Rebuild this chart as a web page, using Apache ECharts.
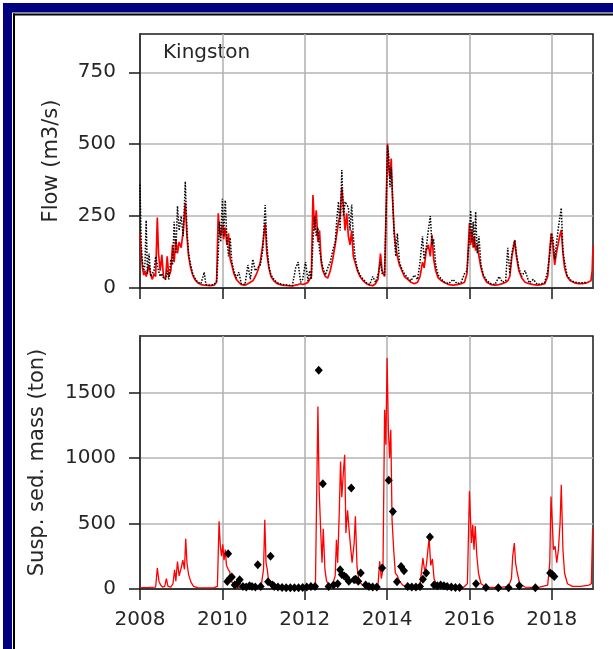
<!DOCTYPE html>
<html>
<head>
<meta charset="utf-8">
<script src="https://cdn.jsdelivr.net/npm/echarts@6/dist/echarts.min.js"></script>
<style>
html,body{margin:0;padding:0;background:#fff;}
#chart{width:613px;height:649px;}
</style>
</head>
<body>
<div id="chart"></div>
<script>
// ---------- DATA ----------
var stationName = 'Kingston';
var xTicks = [2008, 2010, 2012, 2014, 2016, 2018];
var flowTicks = [0, 250, 500, 750];
var sedTicks = [0, 500, 1000, 1500];

// Flow (m3/s): time (decimal year), simulated (red), observed (black dotted)
var flowT = [2008.00,2008.03,2008.06,2008.09,2008.12,2008.15,2008.18,2008.22,2008.26,2008.30,2008.34,2008.38,2008.42,2008.45,2008.49,2008.53,2008.57,2008.62,2008.66,2008.70,2008.75,2008.79,2008.83,2008.87,2008.91,2008.95,2009.00,2009.05,2009.10,2009.14,2009.18,2009.23,2009.28,2009.33,2009.40,2009.48,2009.56,2009.60,2009.70,2009.80,2009.86,2009.90,2009.93,2009.96,2010.00,2010.03,2010.07,2010.11,2010.15,2010.19,2010.23,2010.28,2010.34,2010.40,2010.46,2010.55,2010.62,2010.68,2010.74,2010.80,2010.86,2010.92,2010.98,2011.04,2011.08,2011.13,2011.18,2011.25,2011.33,2011.45,2011.60,2011.70,2011.78,2011.84,2011.90,2011.95,2012.02,2012.08,2012.12,2012.16,2012.20,2012.24,2012.28,2012.32,2012.36,2012.40,2012.44,2012.50,2012.56,2012.62,2012.68,2012.74,2012.78,2012.82,2012.86,2012.90,2012.94,2012.98,2013.02,2013.06,2013.10,2013.14,2013.18,2013.22,2013.28,2013.34,2013.42,2013.50,2013.58,2013.65,2013.72,2013.78,2013.84,2013.88,2013.94,2013.98,2014.01,2014.04,2014.07,2014.10,2014.13,2014.17,2014.21,2014.25,2014.30,2014.36,2014.42,2014.50,2014.58,2014.66,2014.74,2014.80,2014.86,2014.90,2014.95,2015.00,2015.05,2015.09,2015.13,2015.18,2015.24,2015.32,2015.40,2015.50,2015.60,2015.70,2015.80,2015.88,2015.94,2016.00,2016.03,2016.06,2016.09,2016.12,2016.15,2016.19,2016.23,2016.28,2016.34,2016.42,2016.52,2016.62,2016.72,2016.80,2016.88,2016.93,2016.98,2017.03,2017.07,2017.10,2017.14,2017.20,2017.27,2017.35,2017.45,2017.55,2017.65,2017.75,2017.83,2017.90,2017.96,2017.99,2018.03,2018.07,2018.11,2018.15,2018.19,2018.23,2018.27,2018.31,2018.37,2018.45,2018.55,2018.65,2018.75,2018.85,2018.95,2018.98,2019.00];
var flowSim = [190,120,70,45,60,40,35,80,45,30,50,40,245,120,60,115,40,30,110,40,60,150,90,170,120,160,140,200,295,180,110,70,45,30,18,12,10,9,8,10,20,260,200,180,220,170,210,150,190,100,80,50,30,20,12,10,15,20,25,40,60,90,150,225,120,70,40,25,15,10,8,7,10,12,15,12,15,20,18,40,323,200,270,160,200,90,60,40,35,60,100,150,190,230,250,350,280,200,260,180,150,200,110,90,60,40,25,15,10,8,15,30,120,60,40,300,502,420,380,450,317,200,144,110,80,60,40,30,20,15,20,40,90,70,130,150,110,185,100,60,35,25,18,12,10,12,15,20,50,226,150,200,140,180,130,150,110,70,40,20,12,10,12,15,20,25,40,110,140,167,110,60,35,20,15,12,10,12,15,40,150,191,140,80,120,150,180,202,120,70,40,25,18,15,15,18,25,60,145];
var flowObs = [360,150,90,60,80,235,50,120,40,35,60,110,80,60,40,50,35,30,60,30,100,80,230,120,285,200,250,180,370,200,120,80,50,35,20,15,55,12,10,12,25,120,230,160,310,180,305,170,110,175,90,60,35,55,15,12,80,30,100,60,70,80,130,288,150,75,45,30,18,12,10,8,70,90,20,30,90,25,60,30,160,250,180,210,130,100,70,45,70,90,130,160,240,300,200,410,250,300,290,280,200,290,180,110,65,45,30,18,12,40,20,45,90,50,45,280,495,460,350,420,330,190,110,190,90,65,50,35,25,45,30,90,180,100,140,200,250,150,170,80,45,30,20,15,30,15,20,50,60,180,270,160,230,140,265,120,180,80,45,25,15,12,40,20,25,140,50,120,150,165,120,70,40,60,18,30,12,15,20,60,130,190,170,100,150,200,240,278,130,90,45,28,20,18,18,20,null,null,null];

// Suspended sediment mass (ton): simulated (red line)
var sedT = [2008.00,2008.20,2008.38,2008.42,2008.46,2008.50,2008.55,2008.60,2008.64,2008.68,2008.75,2008.80,2008.84,2008.87,2008.91,2008.95,2009.00,2009.04,2009.08,2009.11,2009.14,2009.18,2009.24,2009.30,2009.40,2009.60,2009.80,2009.88,2009.92,2009.95,2009.98,2010.01,2010.04,2010.07,2010.10,2010.14,2010.18,2010.22,2010.28,2010.36,2010.50,2010.70,2010.85,2010.95,2011.00,2011.03,2011.06,2011.09,2011.13,2011.20,2011.35,2011.60,2011.90,2012.15,2012.26,2012.32,2012.35,2012.39,2012.42,2012.45,2012.49,2012.53,2012.60,2012.68,2012.74,2012.77,2012.80,2012.84,2012.87,2012.90,2012.94,2012.97,2013.00,2013.04,2013.08,2013.12,2013.15,2013.20,2013.23,2013.27,2013.32,2013.40,2013.55,2013.70,2013.78,2013.82,2013.86,2013.90,2013.94,2013.97,2014.00,2014.03,2014.06,2014.09,2014.12,2014.16,2014.20,2014.25,2014.30,2014.38,2014.50,2014.70,2014.80,2014.87,2014.92,2014.96,2015.02,2015.06,2015.10,2015.14,2015.20,2015.35,2015.60,2015.85,2015.95,2016.00,2016.03,2016.05,2016.08,2016.11,2016.14,2016.18,2016.22,2016.28,2016.40,2016.70,2016.95,2017.02,2017.05,2017.09,2017.12,2017.16,2017.22,2017.35,2017.65,2017.90,2017.95,2017.98,2018.01,2018.04,2018.08,2018.12,2018.16,2018.20,2018.23,2018.27,2018.31,2018.38,2018.50,2018.70,2018.90,2018.96,2018.99,2019.00];
var sedSim = [10,12,15,160,60,30,15,20,80,20,15,40,147,60,210,100,160,220,150,384,200,110,50,20,10,8,10,20,516,330,250,340,220,300,180,150,130,60,30,15,10,10,15,40,150,529,200,150,40,20,10,8,10,12,30,1393,757,427,200,460,150,60,30,40,100,376,200,600,973,700,900,1024,427,600,440,300,200,350,554,170,60,30,15,12,30,211,80,150,1368,1100,1762,1228,1000,1215,529,300,122,100,60,30,15,10,30,236,120,200,390,180,230,80,30,15,10,12,40,745,500,351,490,300,480,250,120,40,15,10,20,80,249,351,200,124,40,15,10,30,200,706,516,300,325,200,300,500,796,300,120,40,20,20,30,40,452,460];

// Observed suspended sediment mass (ton): black diamonds
var obsT = [2010.12,2010.14,2010.18,2010.23,2010.30,2010.36,2010.42,2010.50,2010.58,2010.66,2010.72,2010.80,2010.86,2010.93,2011.11,2011.17,2011.22,2011.26,2011.35,2011.45,2011.55,2011.65,2011.75,2011.85,2011.95,2012.05,2012.15,2012.25,2012.34,2012.44,2012.58,2012.70,2012.80,2012.86,2012.90,2012.96,2013.01,2013.07,2013.13,2013.20,2013.24,2013.30,2013.36,2013.48,2013.56,2013.65,2013.75,2013.88,2014.04,2014.14,2014.24,2014.34,2014.41,2014.50,2014.60,2014.70,2014.80,2014.87,2014.95,2015.04,2015.14,2015.22,2015.30,2015.38,2015.46,2015.56,2015.66,2015.76,2016.16,2016.40,2016.70,2016.95,2017.21,2017.60,2017.96,2018.01,2018.06];
var obsSed = [58,269,80,91,30,40,70,20,15,25,20,15,185,20,55,249,30,20,15,12,10,10,10,10,12,15,20,20,1668,803,20,30,40,147,110,100,88,60,770,70,75,60,122,30,20,15,15,160,829,592,55,172,140,20,15,15,20,75,122,396,30,25,30,25,20,15,12,12,40,12,10,10,25,10,122,110,95];

// ---------- BUILD ----------
function pairs(t, v) { var out = []; for (var i = 0; i < t.length; i++) out.push([t[i], v[i]]); return out; }

var FONT = 'DejaVu Sans';
var TXT = '#262626';
var GRIDC = '#b4b4b4';
var AXC = '#1a1a1a';

function xAxisCfg(gridIndex, showLabels) {
  return {
    type: 'value', gridIndex: gridIndex, min: 2008, max: 2019, interval: 2,
    axisLine: { show: true, lineStyle: { color: AXC, width: 1.5 } },
    axisTick: { show: true, length: 11, lineStyle: { color: AXC, width: 1.5 }, customValues: xTicks },
    axisLabel: { show: showLabels, margin: 21, fontFamily: FONT, fontSize: 20, color: TXT, customValues: xTicks,
      formatter: function (v) { return String(Math.round(v)); } },
    splitLine: { show: true, lineStyle: { color: GRIDC, width: 1.6 } }
  };
}
function yAxisCfg(gridIndex, max, interval, ticks, name, gap) {
  return {
    type: 'value', gridIndex: gridIndex, min: 0, max: max, interval: interval,
    name: name, nameLocation: 'middle', nameGap: gap,
    nameTextStyle: { fontFamily: FONT, fontSize: 21, color: TXT },
    axisLine: { show: true, lineStyle: { color: AXC, width: 1.5 } },
    axisTick: { show: true, length: 11, lineStyle: { color: AXC, width: 1.5 }, customValues: ticks },
    axisLabel: { margin: 24, fontFamily: FONT, fontSize: 20, color: TXT, customValues: ticks,
      formatter: function (v) { return String(Math.round(v)); } },
    splitLine: { show: true, lineStyle: { color: GRIDC, width: 1.6 } }
  };
}

var chart = echarts.init(document.getElementById('chart'), null, { renderer: 'canvas' });
chart.setOption({
  backgroundColor: '#ffffff',
  animation: false,
  grid: [
    { left: 140, top: 34, width: 453, height: 254, show: true, borderColor: AXC, borderWidth: 1.5, backgroundColor: 'transparent' },
    { left: 140, top: 336, width: 453, height: 253, show: true, borderColor: AXC, borderWidth: 1.5, backgroundColor: 'transparent' }
  ],
  xAxis: [ xAxisCfg(0, false), xAxisCfg(1, true) ],
  yAxis: [
    yAxisCfg(0, 883, 250, flowTicks, 'Flow (m3/s)', 78),
    yAxisCfg(1, 1930, 500, sedTicks, 'Susp. sed. mass (ton)', 92)
  ],
  series: [
    { type: 'line', xAxisIndex: 0, yAxisIndex: 0, data: pairs(flowT, flowSim), showSymbol: false,
      lineStyle: { color: '#ff0000', width: 1.7 }, z: 2 },
    { type: 'line', xAxisIndex: 0, yAxisIndex: 0, data: pairs(flowT, flowObs), showSymbol: false, connectNulls: false,
      lineStyle: { color: '#000000', width: 1.5, type: 'dotted' }, z: 3 },
    { type: 'line', xAxisIndex: 1, yAxisIndex: 1, data: pairs(sedT, sedSim), showSymbol: false,
      lineStyle: { color: '#ff0000', width: 1.3 }, z: 2 },
    { type: 'scatter', xAxisIndex: 1, yAxisIndex: 1, data: pairs(obsT, obsSed), symbol: 'diamond', symbolSize: [8, 9],
      itemStyle: { color: '#000000', opacity: 1 }, z: 3 }
  ],
  graphic: [
    { type: 'rect', shape: { x: 3, y: 3, width: 610, height: 9.5 }, style: { fill: '#000080' }, silent: true },
    { type: 'rect', shape: { x: 3, y: 3, width: 9, height: 646 }, style: { fill: '#000080' }, silent: true },
    { type: 'rect', shape: { x: 13, y: 13.5, width: 600, height: 2 }, style: { fill: '#000000' }, silent: true },
    { type: 'rect', shape: { x: 13, y: 13.5, width: 2, height: 636 }, style: { fill: '#000000' }, silent: true },
    { type: 'text', x: 163, y: 53, style: { text: stationName, fontFamily: FONT, fontSize: 20, fill: TXT, verticalAlign: 'middle' }, silent: true }
  ]
});
</script>
</body>
</html>
